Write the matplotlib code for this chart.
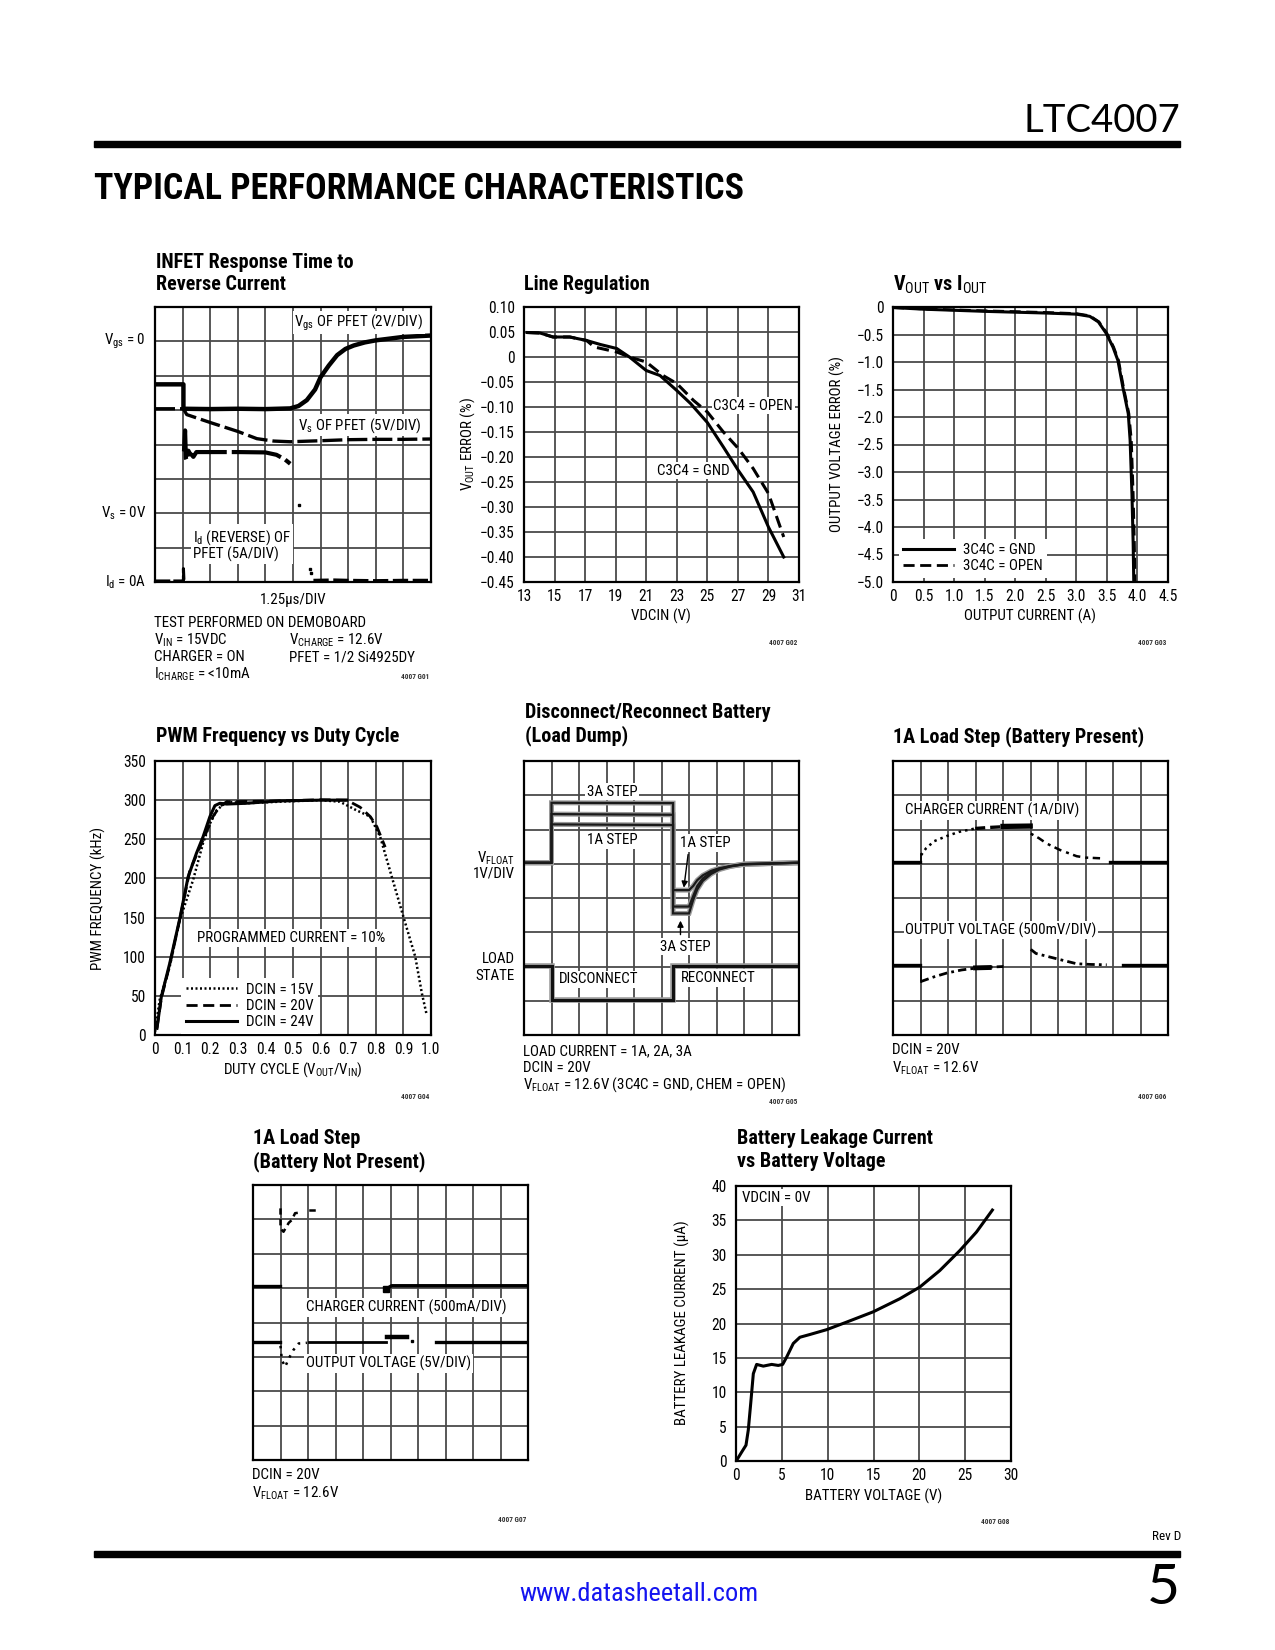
import numpy as np
import matplotlib
matplotlib.use("Agg")
import matplotlib.pyplot as plt
from matplotlib import font_manager as fm

# ---------------- data ----------------
# Line regulation
LR_VDCIN_GND = [13.2, 14.05, 14.9, 16.0, 17.1, 18.0, 19.07, 19.9, 21.0, 21.9, 23.0, 23.9, 25.0, 26.05, 27.03, 28.0, 29.0, 30.0]
LR_ERR_GND = [0.049, 0.048, 0.040, 0.040, 0.033, 0.025, 0.017, 0.0, -0.027, -0.037, -0.067, -0.093, -0.131, -0.18, -0.227, -0.27, -0.34, -0.40]
LR_VDCIN_OPEN = [13.2, 14.05, 14.9, 16.0, 17.1, 17.6, 19.07, 19.9, 21.0, 22.1, 23.0, 24.1, 25.0, 26.05, 27.03, 28.0, 29.0, 30.0]
LR_ERR_OPEN = [0.049, 0.048, 0.040, 0.040, 0.033, 0.020, 0.010, 0.0, -0.010, -0.037, -0.053, -0.087, -0.110, -0.150, -0.183, -0.223, -0.273, -0.360]
LR_XTICKS = [13, 15, 17, 19, 21, 23, 25, 27, 29, 31]
LR_YTICKS = [0.10, 0.05, 0, -0.05, -0.10, -0.15, -0.20, -0.25, -0.30, -0.35, -0.40, -0.45]
LR_YLABELS = ["0.10", "0.05", "0", "\u22120.05", "\u22120.10", "\u22120.15", "\u22120.20", "\u22120.25", "\u22120.30", "\u22120.35", "\u22120.40", "\u22120.45"]

# Vout vs Iout
VI_I_GND = [0.0, 0.5, 1.53, 2.51, 3.0, 3.22, 3.36, 3.49, 3.6, 3.68, 3.76, 3.85, 3.88, 3.91, 3.93, 3.94]
VI_E_GND = [-0.01, -0.04, -0.08, -0.11, -0.13, -0.17, -0.27, -0.48, -0.73, -0.97, -1.45, -1.94, -2.42, -3.39, -4.30, -5.0]
VI_I_OPEN = [0.0, 0.5, 1.53, 2.51, 3.0, 3.22, 3.37, 3.5, 3.61, 3.69, 3.77, 3.86, 3.9, 3.93, 3.95, 3.96]
VI_E_OPEN = [-0.01, -0.035, -0.07, -0.10, -0.12, -0.16, -0.27, -0.48, -0.73, -0.97, -1.45, -1.94, -2.42, -3.39, -4.30, -5.0]
VI_XTICKS = [0, 0.5, 1.0, 1.5, 2.0, 2.5, 3.0, 3.5, 4.0, 4.5]
VI_XLABELS = ["0", "0.5", "1.0", "1.5", "2.0", "2.5", "3.0", "3.5", "4.0", "4.5"]
VI_YTICKS = [0, -0.5, -1.0, -1.5, -2.0, -2.5, -3.0, -3.5, -4.0, -4.5, -5.0]
VI_YLABELS = ["0", "\u22120.5", "\u22121.0", "\u22121.5", "\u22122.0", "\u22122.5", "\u22123.0", "\u22123.5", "\u22124.0", "\u22124.5", "\u22125.0"]

# PWM frequency vs duty cycle
PWM_D_24 = [0.007, 0.023, 0.053, 0.09, 0.12, 0.15, 0.174, 0.199, 0.217, 0.235, 0.26, 0.33, 0.45, 0.60, 0.695]
PWM_F_24 = [8.5, 49, 91, 149, 202, 232, 253, 279, 293, 296, 295, 296, 299, 300, 300]
PWM_D_20 = [0.007, 0.023, 0.053, 0.09, 0.126, 0.174, 0.21, 0.235, 0.26, 0.45, 0.60, 0.695, 0.743, 0.78, 0.804, 0.834]
PWM_F_20 = [8.5, 47, 89, 148, 210, 249, 279, 292, 298, 299, 300.5, 300, 291, 279, 266, 240]
PWM_D_15 = [0.0, 0.017, 0.053, 0.09, 0.138, 0.174, 0.199, 0.223, 0.26, 0.33, 0.45, 0.60, 0.67, 0.73, 0.78, 0.816, 0.858, 0.90, 0.943, 0.967, 0.983]
PWM_F_15 = [4, 45, 87, 147, 198, 245, 270, 287, 298, 296, 298, 300, 298, 287, 279, 253, 202, 151, 100, 53, 28]
PWM_XTICKS = [0, 0.1, 0.2, 0.3, 0.4, 0.5, 0.6, 0.7, 0.8, 0.9, 1.0]
PWM_XLABELS = ["0", "0.1", "0.2", "0.3", "0.4", "0.5", "0.6", "0.7", "0.8", "0.9", "1.0"]
PWM_YTICKS = [0, 50, 100, 150, 200, 250, 300, 350]

# Battery leakage
BL_V = [0.07, 0.62, 1.09, 1.34, 1.6, 1.89, 2.25, 2.98, 3.89, 4.61, 5.09, 5.52, 6.25, 6.97, 8.06, 9.88, 12.06, 14.97, 17.87, 20.05, 22.23, 24.41, 26.23, 27.97]
BL_I = [0.1, 1.3, 2.3, 4.5, 8.3, 12.7, 14.05, 13.8, 14.05, 13.9, 14.05, 15.1, 17.1, 18.0, 18.4, 19.1, 20.2, 21.7, 23.6, 25.3, 27.7, 30.6, 33.3, 36.5]
BL_XTICKS = [0, 5, 10, 15, 20, 25, 30]
BL_YTICKS = [0, 5, 10, 15, 20, 25, 30, 35, 40]

# Scope traces (units: divisions; 10 x 8 graticule)
# INFET response
INF_VGS_T = [0, 1.03, 1.03, 2.0, 3.0, 4.0, 4.9, 5.2, 5.5, 5.8, 6.0, 6.3, 6.6, 6.9, 7.2, 7.6, 8.0, 8.5, 9.0, 9.5, 10]
INF_VGS_V = [5.75, 5.75, 5.04, 5.03, 5.04, 5.03, 5.05, 5.12, 5.29, 5.6, 5.96, 6.3, 6.6, 6.78, 6.88, 6.97, 7.03, 7.08, 7.13, 7.15, 7.17]
INF_VS_T = [0, 1.03, 1.15, 2.0, 3.0, 3.69, 4.3, 4.9, 6.0, 7.0, 8.0, 9.0, 10]
INF_VS_V = [5.04, 5.04, 4.87, 4.64, 4.38, 4.17, 4.10, 4.08, 4.11, 4.14, 4.15, 4.15, 4.16]
INF_ID1_T = [1.05, 1.09, 1.12, 1.15, 1.21, 1.27, 1.33, 1.39, 1.5, 2.0, 3.0, 4.0, 4.4, 4.7, 4.9]
INF_ID1_V = [3.8, 4.41, 3.6, 3.54, 3.82, 3.73, 3.7, 3.64, 3.78, 3.78, 3.78, 3.77, 3.7, 3.57, 3.44]
INF_ID0_T = [0, 1.0, 1.03, 1.03, 1.05]
INF_ID0_V = [0.03, 0.03, 0.03, 0.39, 0.03]
INF_ID2_T = [5.74, 6.5, 7.0, 8.0, 9.0, 10]
INF_ID2_V = [0.05, 0.06, 0.05, 0.04, 0.05, 0.05]

# Disconnect / reconnect
LD_T = [0, 1.0, 1.0, 5.42, 5.42, 10]
LD_V = [2.02, 2.02, 1.03, 1.03, 2.02, 2.02]
VF_T = [0, 1.0, 1.0, 5.42, 5.42, 6.0, 6.15, 6.3, 6.5, 6.8, 7.1, 7.5, 8.0, 10]
VF_1A = [5.03, 5.03, 6.15, 6.13, 4.23, 4.23, 4.35, 4.52, 4.66, 4.79, 4.87, 4.93, 4.98, 5.03]
VF_2A = [5.03, 5.03, 6.45, 6.43, 3.75, 3.75, 4.05, 4.35, 4.57, 4.75, 4.85, 4.93, 4.99, 5.03]
VF_3A = [5.03, 5.03, 6.78, 6.77, 3.55, 3.55, 3.94, 4.25, 4.5, 4.7, 4.83, 4.92, 4.99, 5.03]

# 1A load step, battery present
BP_CC_BASE1_T = [0, 0.99]
BP_CC_BASE1_V = [5.06, 5.06]
BP_CC_RISE_T = [1.02, 1.2, 1.5, 1.96, 2.4, 2.99]
BP_CC_RISE_V = [5.25, 5.45, 5.66, 5.81, 5.93, 6.03]
BP_CC_TOP_T = [2.99, 3.5, 4.0, 4.5, 4.99]
BP_CC_TOP_V = [6.03, 6.06, 6.08, 6.1, 6.1]
BP_CC_DEC_T = [5.01, 5.3, 5.59, 6.08, 6.68, 7.0, 7.53]
BP_CC_DEC_V = [5.88, 5.75, 5.59, 5.40, 5.22, 5.18, 5.16]
BP_CC_BASE2_T = [7.9, 10]
BP_CC_BASE2_V = [5.06, 5.06]
BP_OV_BASE1_T = [0, 0.99]
BP_OV_BASE1_V = [2.03, 2.03]
BP_OV_REC_T = [1.01, 1.5, 1.96, 2.5, 2.99, 3.5, 4.02]
BP_OV_REC_V = [1.56, 1.70, 1.81, 1.9, 1.95, 1.98, 2.0]
BP_OV_DEC_T = [5.01, 5.2, 5.59, 6.08, 6.68, 7.2, 7.77]
BP_OV_DEC_V = [2.5, 2.38, 2.30, 2.20, 2.08, 2.06, 2.05]
BP_OV_BASE2_T = [8.35, 10]
BP_OV_BASE2_V = [2.03, 2.03]

# 1A load step, battery not present
BN_CC_BASE1_T = [0, 0.97]
BN_CC_BASE1_V = [5.07, 5.07]
BN_CC_SPK_T = [1.0, 1.0, 1.05, 1.11, 1.3, 1.41, 1.53, 1.72]
BN_CC_SPK_V = [7.32, 6.75, 6.69, 6.64, 6.9, 6.98, 7.18, 7.2]
BN_CC_BASE2_T = [4.84, 5.04, 7.0, 10]
BN_CC_BASE2_V = [4.97, 5.07, 5.07, 5.07]
BN_OV_BASE1_T = [0, 0.97]
BN_OV_BASE1_V = [3.44, 3.44]
BN_OV_DIP_T = [1.0, 1.05, 1.17, 1.3, 1.47, 1.66, 1.96]
BN_OV_DIP_V = [3.32, 2.91, 2.71, 2.95, 3.2, 3.39, 3.41]
BN_OV_MID_T = [2.02, 4.84]
BN_OV_MID_V = [3.44, 3.44]
BN_OV_BUMP_T = [4.86, 5.59]
BN_OV_BUMP_V = [3.58, 3.58]
BN_OV_BASE2_T = [6.65, 10]
BN_OV_BASE2_V = [3.44, 3.44]

# ---------------- style ----------------
W, H = 1275, 1650
names = {f.name for f in fm.fontManager.ttflist}
FONT = next((n for n in ["Liberation Sans Narrow", "Roboto Condensed", "Open Sans Condensed"] if n in names), None)
STRETCH = "normal"
if FONT is None:
    FONT = "DejaVu Sans"
    STRETCH = "condensed"
plt.rcParams["font.family"] = [FONT, "DejaVu Sans"]
plt.rcParams["font.stretch"] = STRETCH
plt.rcParams["mathtext.fontset"] = "custom"
plt.rcParams["mathtext.rm"] = FONT
plt.rcParams["mathtext.it"] = FONT
plt.rcParams["mathtext.bf"] = FONT + ":bold"

GRIDC = "#4a4a4a"
GRIDW = 1.3
TICKFS = 11.2
LABFS = 10.8
TITLEFS = 14.5
CAPFS = 10.8
BOXTXT = dict(facecolor="white", edgecolor="none", pad=1.2)

fig = plt.figure(figsize=(W / 100, H / 100), dpi=100)
renderer = fig.canvas.get_renderer()


def add_ax(x0, y0, x1, y1):
    return fig.add_axes([x0 / W, 1 - y1 / H, (x1 - x0) / W, (y1 - y0) / H])


def ftext(x, y, s, **kw):
    kw.setdefault("va", "center")
    kw.setdefault("ha", "left")
    return fig.text(x / W, 1 - y / H, s, **kw)


def fit_width(t, target_px):
    w = t.get_window_extent(renderer=renderer).width
    t.set_fontsize(t.get_fontsize() * target_px / w)


def style_axes(ax):
    for sp in ax.spines.values():
        sp.set_linewidth(1.6)
        sp.set_color("black")
        sp.set_zorder(4)
    ax.grid(True, color=GRIDC, lw=GRIDW, zorder=0)
    ax.set_axisbelow(True)
    ax.tick_params(length=0, labelsize=TICKFS, pad=5)


def scope_axes(x0, y0, x1, y1):
    ax = add_ax(x0, y0, x1, y1)
    ax.set_xlim(0, 10)
    ax.set_ylim(0, 8)
    ax.set_xticks(np.arange(11))
    ax.set_yticks(np.arange(9))
    style_axes(ax)
    ax.tick_params(labelbottom=False, labelleft=False)
    return ax


def title(x, y, lines):
    for i, s in enumerate(lines):
        ftext(x, y + i * 22.5, s, fontsize=TITLEFS, fontweight="bold")


def tag(xr, y, s):
    ftext(xr, y, s, fontsize=5.2, ha="right", fontweight="bold", color="#333333")


# ---------------- header / footer ----------------
fig.add_artist(plt.Rectangle((94 / W, 1 - 147 / H), (1180 - 94) / W, 6.5 / H, transform=fig.transFigure, color="black"))
fig.add_artist(plt.Rectangle((94 / W, 1 - 1557 / H), (1180 - 94) / W, 6.5 / H, transform=fig.transFigure, color="black"))
lt_font = "Lato" if "Lato" in names else FONT
t = ftext(1180, 121, "LTC4007", fontsize=29, ha="right", family=lt_font, fontweight="normal", stretch="normal", color="black")
fit_width(t, 157)
t = ftext(94, 189, "TYPICAL PERFORMANCE CHARACTERISTICS", fontsize=26, fontweight="heavy", family=[FONT, "DejaVu Sans"])
fit_width(t, 651)
ftext(1181, 1537, "Rev D", fontsize=9.5, ha="right")
ftext(639, 1594, "www.datasheetall.com", fontsize=19, ha="center", color="#1414f0")
ftext(1180, 1588, "5", fontsize=41, ha="right", family=lt_font, fontweight="normal", stretch="normal", color="black")

# ---------------- Panel 1: INFET response ----------------
title(156, 262, ["INFET Response Time to", "Reverse Current"])
ax = scope_axes(155, 307, 431, 582)
ax.plot(INF_VGS_T, INF_VGS_V, color="black", lw=3.2, zorder=3)
ax.plot(INF_VS_T, INF_VS_V, color="black", lw=2.4, ls=(0, (6, 1.5)), zorder=3)
ax.plot(INF_ID1_T, INF_ID1_V, color="black", lw=3.0, ls=(0, (12, 1.2)), zorder=3)
ax.plot(INF_ID0_T, INF_ID0_V, color="black", lw=2.2, ls=(0, (5, 1)), zorder=3)
ax.plot(INF_ID2_T, INF_ID2_V, color="black", lw=2.2, ls=(0, (5, 1.5)), zorder=3)
ax.plot([5.2, 5.62, 5.66], [2.23, 0.39, 0.25], ls="none", marker="s", ms=1.8, color="black", zorder=3)
ax.text(9.72, 7.55, "V$_{gs}$ OF PFET (2V/DIV)", ha="right", va="center", fontsize=LABFS, bbox=BOXTXT, zorder=5)
ax.text(9.65, 4.56, "V$_{s}$ OF PFET (5V/DIV)", ha="right", va="center", fontsize=LABFS, bbox=BOXTXT, zorder=5)
ax.text(1.38, 1.07, "I$_{d}$ (REVERSE) OF\nPFET (5A/DIV)", ha="left", va="center", fontsize=LABFS, linespacing=1.0, bbox=BOXTXT, zorder=5)
ftext(146, 341, "V$_{gs}$ = 0", fontsize=LABFS, ha="right")
ftext(146, 513, "V$_{s}$ = 0V", fontsize=LABFS, ha="right")
ftext(146, 582, "I$_{d}$ = 0A", fontsize=LABFS, ha="right")
ftext(293, 600, "1.25\u03bcs/DIV", fontsize=LABFS, ha="center")
ftext(154, 623, "TEST PERFORMED ON DEMOBOARD", fontsize=CAPFS)
ftext(154, 640, "V$_{IN}$ = 15VDC", fontsize=CAPFS)
ftext(289, 640, "V$_{CHARGE}$ = 12.6V", fontsize=CAPFS)
ftext(154, 657, "CHARGER = ON", fontsize=CAPFS)
ftext(289, 657, "PFET = 1/2 Si4925DY", fontsize=CAPFS)
ftext(154, 674, "I$_{CHARGE}$ = <10mA", fontsize=CAPFS)
tag(429, 677, "4007 G01")

# ---------------- Panel 2: Line regulation ----------------
title(524, 284, ["Line Regulation"])
ax = add_ax(524, 307, 799, 582)
style_axes(ax)
ax.set_xlim(13, 31)
ax.set_ylim(-0.45, 0.10)
ax.set_xticks(LR_XTICKS)
ax.set_yticks(LR_YTICKS)
ax.set_yticklabels(LR_YLABELS)
ax.tick_params(axis="y", pad=6.5)
ax.tick_params(axis="x", pad=5)
ax.plot(LR_VDCIN_OPEN, LR_ERR_OPEN, color="black", lw=2.2, ls=(0, (4, 2)), zorder=3)
ax.plot(LR_VDCIN_GND, LR_ERR_GND, color="black", lw=2.2, zorder=3)
ax.text(25.4, -0.097, "C3C4 = OPEN", ha="left", va="center", fontsize=LABFS, bbox=BOXTXT, zorder=5)
ax.text(21.7, -0.227, "C3C4 = GND", ha="left", va="center", fontsize=LABFS, bbox=BOXTXT, zorder=5)
ftext(468, 444, "V$_{OUT}$ ERROR (%)", fontsize=LABFS, ha="center", rotation=90)
ftext(661, 616, "VDCIN (V)", fontsize=LABFS, ha="center")
tag(797, 643, "4007 G02")

# ---------------- Panel 3: Vout vs Iout ----------------
title(893, 285, ["V$_{OUT}$ vs I$_{OUT}$"])
ax = add_ax(893, 307, 1168, 582)
style_axes(ax)
ax.set_xlim(0, 4.5)
ax.set_ylim(-5.0, 0)
ax.set_xticks(VI_XTICKS)
ax.set_xticklabels(VI_XLABELS)
ax.set_yticks(VI_YTICKS)
ax.set_yticklabels(VI_YLABELS)
ax.tick_params(axis="y", pad=6.5)
ax.tick_params(axis="x", pad=5)
l1, = ax.plot(VI_I_GND, VI_E_GND, color="black", lw=2.2, zorder=3)
l2, = ax.plot(VI_I_OPEN, VI_E_OPEN, color="black", lw=2.0, ls=(0, (4, 2)), zorder=3)
leg = ax.legend([l1, l2], ["3C4C = GND", "3C4C = OPEN"], loc="lower left", bbox_to_anchor=(0.02, 0.015),
                frameon=True, fancybox=False, framealpha=1, facecolor="white", edgecolor="none",
                fontsize=LABFS, handlelength=3.4, handletextpad=0.6, labelspacing=0.15, borderpad=0.3, borderaxespad=0)
leg.set_zorder(6)
ftext(837, 444, "OUTPUT VOLTAGE ERROR (%)", fontsize=LABFS, ha="center", rotation=90)
ftext(1030, 616, "OUTPUT CURRENT (A)", fontsize=LABFS, ha="center")
tag(1166, 643, "4007 G03")

# ---------------- Panel 4: PWM frequency ----------------
title(156, 736, ["PWM Frequency vs Duty Cycle"])
ax = add_ax(155, 761, 431, 1035)
style_axes(ax)
ax.set_xlim(0, 1.0)
ax.set_ylim(0, 350)
ax.set_xticks(PWM_XTICKS)
ax.set_xticklabels(PWM_XLABELS)
ax.set_yticks(PWM_YTICKS)
ax.tick_params(axis="y", pad=6.5)
ax.tick_params(axis="x", pad=5)
p15, = ax.plot(PWM_D_15, PWM_F_15, color="black", lw=1.8, ls=(0, (0.8, 1.0)), zorder=3)
p20, = ax.plot(PWM_D_20, PWM_F_20, color="black", lw=2.0, ls=(0, (4, 2)), zorder=3)
p24, = ax.plot(PWM_D_24, PWM_F_24, color="black", lw=2.2, zorder=3)
ax.text(0.152, 124, "PROGRAMMED CURRENT = 10%", ha="left", va="center", fontsize=LABFS, bbox=BOXTXT, zorder=5)
leg = ax.legend([p15, p20, p24], ["DCIN = 15V", "DCIN = 20V", "DCIN = 24V"], loc="lower left", bbox_to_anchor=(0.095, 0.005),
                frameon=True, fancybox=False, framealpha=1, facecolor="white", edgecolor="none",
                fontsize=LABFS, handlelength=3.4, handletextpad=0.6, labelspacing=0.15, borderpad=0.3, borderaxespad=0)
leg.set_zorder(6)
ftext(98, 898, "PWM FREQUENCY (kHz)", fontsize=LABFS, ha="center", rotation=90)
ftext(293, 1070, "DUTY CYCLE (V$_{OUT}$/V$_{IN}$)", fontsize=LABFS, ha="center")
tag(429, 1097, "4007 G04")

# ---------------- Panel 5: Disconnect / reconnect ----------------
title(525, 713, ["Disconnect/Reconnect Battery", "(Load Dump)"])
ax = scope_axes(524, 761, 799, 1035)
for tr in (VF_1A, VF_2A, VF_3A):
    ax.plot(VF_T, tr, color="#9a9a9a", lw=3.6, zorder=2, solid_joinstyle="miter")
    ax.plot(VF_T, tr, color="#1a1a1a", lw=1.6, zorder=3, solid_joinstyle="miter")
ax.plot(LD_T, LD_V, color="#9a9a9a", lw=4.0, zorder=2, solid_joinstyle="miter")
ax.plot(LD_T, LD_V, color="#111111", lw=2.2, zorder=3, solid_joinstyle="miter")
ax.text(2.28, 7.1, "3A STEP", ha="left", va="center", fontsize=LABFS, bbox=BOXTXT, zorder=5)
ax.text(2.3, 5.69, "1A STEP", ha="left", va="center", fontsize=LABFS, bbox=BOXTXT, zorder=5)
ax.text(5.69, 5.61, "1A STEP", ha="left", va="center", fontsize=LABFS, bbox=BOXTXT, zorder=5)
ax.text(4.94, 2.58, "3A STEP", ha="left", va="center", fontsize=LABFS, bbox=BOXTXT, zorder=5)
ax.text(1.28, 1.63, "DISCONNECT", ha="left", va="center", fontsize=LABFS, bbox=BOXTXT, zorder=5)
ax.text(5.69, 1.66, "RECONNECT", ha="left", va="center", fontsize=LABFS, bbox=BOXTXT, zorder=5)
ax.annotate("", xy=(5.8, 4.22), xytext=(5.98, 5.35), arrowprops=dict(arrowstyle="-|>", color="black", lw=1.0, mutation_scale=9), zorder=6)
ax.annotate("", xy=(5.69, 3.42), xytext=(5.69, 2.85), arrowprops=dict(arrowstyle="-|>", color="black", lw=1.0, mutation_scale=9), zorder=6)
ftext(515, 858, "V$_{FLOAT}$", fontsize=LABFS, ha="right")
ftext(515, 874, "1V/DIV", fontsize=LABFS, ha="right")
ftext(515, 959, "LOAD", fontsize=LABFS, ha="right")
ftext(515, 976, "STATE", fontsize=LABFS, ha="right")
ftext(523, 1051, "LOAD CURRENT = 1A, 2A, 3A", fontsize=CAPFS)
ftext(523, 1068, "DCIN = 20V", fontsize=CAPFS)
ftext(523, 1085, "V$_{FLOAT}$ = 12.6V (3C4C = GND, CHEM = OPEN)", fontsize=CAPFS)
tag(797, 1102, "4007 G05")

# ---------------- Panel 6: 1A load step (battery present) ----------------
title(893, 737, ["1A Load Step (Battery Present)"])
ax = scope_axes(893, 761, 1168, 1035)
ax.plot(BP_CC_BASE1_T, BP_CC_BASE1_V, color="black", lw=2.4, zorder=3)
ax.plot(BP_CC_RISE_T, BP_CC_RISE_V, color="black", lw=1.8, ls=(0, (1, 1.6)), zorder=3)
ax.plot(BP_CC_TOP_T, BP_CC_TOP_V, color="black", lw=2.4, ls=(0, (3, 1.5)), zorder=3)
ax.plot([4.0, 4.99], [6.09, 6.1], color="black", lw=3.8, zorder=3)
ax.plot(BP_CC_DEC_T, BP_CC_DEC_V, color="black", lw=1.8, ls=(0, (1.2, 1.8, 3, 2)), zorder=3)
ax.plot(BP_CC_BASE2_T, BP_CC_BASE2_V, color="black", lw=2.4, zorder=3)
ax.plot(BP_OV_BASE1_T, BP_OV_BASE1_V, color="black", lw=2.4, zorder=3)
ax.plot(BP_OV_REC_T, BP_OV_REC_V, color="black", lw=2.0, ls=(0, (3, 1.5, 1, 1.5)), zorder=3)
ax.plot([3.0, 3.5], [1.96, 1.97], color="black", lw=3.5, zorder=3)
ax.plot(BP_OV_DEC_T, BP_OV_DEC_V, color="black", lw=2.0, ls=(0, (3, 1.5, 1, 1.5)), zorder=3)
ax.plot(BP_OV_BASE2_T, BP_OV_BASE2_V, color="black", lw=2.4, zorder=3)
ax.plot([1.0, 1.0], [5.06, 5.28], color="black", lw=1.2, zorder=3)
ax.plot([1.0, 1.0], [2.03, 1.56], color="black", lw=1.2, zorder=3)
ax.text(0.45, 6.56, "CHARGER CURRENT (1A/DIV)", ha="left", va="center", fontsize=LABFS, bbox=BOXTXT, zorder=5)
ax.text(0.45, 3.07, "OUTPUT VOLTAGE (500mV/DIV)", ha="left", va="center", fontsize=LABFS, bbox=BOXTXT, zorder=5)
ftext(892, 1050, "DCIN = 20V", fontsize=CAPFS)
ftext(892, 1068, "V$_{FLOAT}$ = 12.6V", fontsize=CAPFS)
tag(1166, 1097, "4007 G06")

# ---------------- Panel 7: 1A load step (battery not present) ----------------
title(253, 1139, ["1A Load Step", "(Battery Not Present)"])
ax = scope_axes(253, 1185, 528, 1460)
ax.plot(BN_CC_BASE1_T, BN_CC_BASE1_V, color="black", lw=2.4, zorder=3)
ax.plot(BN_CC_SPK_T, BN_CC_SPK_V, color="black", lw=1.8, ls=(0, (2.5, 1.8)), zorder=3)
ax.plot([2.08, 2.2], [7.27, 7.27], color="black", lw=1.8, zorder=3)
ax.plot(BN_CC_BASE2_T, BN_CC_BASE2_V, color="black", lw=2.4, zorder=3)
ax.plot([4.84], [4.97], marker="s", ms=4, color="black", zorder=3)
ax.plot(BN_OV_BASE1_T, BN_OV_BASE1_V, color="black", lw=2.4, zorder=3)
ax.plot(BN_OV_DIP_T, BN_OV_DIP_V, color="black", lw=1.8, ls=(0, (1, 2.2)), zorder=3)
ax.plot(BN_OV_MID_T, BN_OV_MID_V, color="black", lw=2.0, zorder=3)
ax.plot(BN_OV_BUMP_T, BN_OV_BUMP_V, color="black", lw=3.2, zorder=3)
ax.plot([5.77], [3.47], marker="s", ms=2, color="black", zorder=3)
ax.plot(BN_OV_BASE2_T, BN_OV_BASE2_V, color="black", lw=2.4, zorder=3)
ax.text(1.93, 4.43, "CHARGER CURRENT (500mA/DIV)", ha="left", va="center", fontsize=LABFS, bbox=BOXTXT, zorder=5)
ax.text(1.93, 2.81, "OUTPUT VOLTAGE (5V/DIV)", ha="left", va="center", fontsize=LABFS, bbox=BOXTXT, zorder=5)
ftext(252, 1475, "DCIN = 20V", fontsize=CAPFS)
ftext(252, 1493, "V$_{FLOAT}$ = 12.6V", fontsize=CAPFS)
tag(526, 1520, "4007 G07")

# ---------------- Panel 8: Battery leakage ----------------
title(737, 1139, ["Battery Leakage Current", "vs Battery Voltage"])
ax = add_ax(736, 1186, 1011, 1461)
style_axes(ax)
ax.set_xlim(0, 30)
ax.set_ylim(0, 40)
ax.set_xticks(BL_XTICKS)
ax.set_yticks(BL_YTICKS)
ax.tick_params(axis="y", pad=6.5)
ax.tick_params(axis="x", pad=5)
ax.plot(BL_V, BL_I, color="black", lw=2.2, zorder=3)
ax.text(0.6, 38.3, "VDCIN = 0V", ha="left", va="center", fontsize=LABFS, bbox=BOXTXT, zorder=5)
ftext(682, 1323, "BATTERY LEAKAGE CURRENT (\u03bcA)", fontsize=LABFS, ha="center", rotation=90)
ftext(874, 1496, "BATTERY VOLTAGE (V)", fontsize=LABFS, ha="center")
tag(1009, 1522, "4007 G08")

fig.savefig("out.png", dpi=100, facecolor="white")
